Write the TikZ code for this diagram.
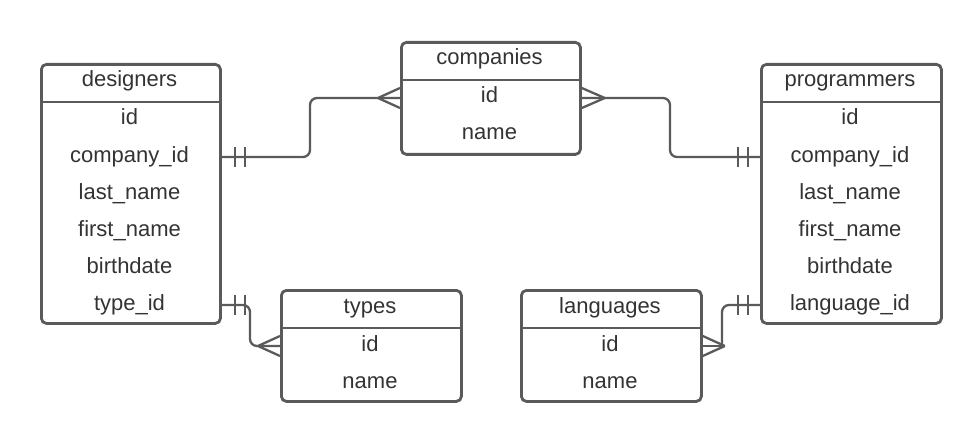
\documentclass[tikz,border=0pt]{standalone}
\usepackage{fontspec}
\setmainfont{Liberation Sans}
\usetikzlibrary{calc}
\definecolor{ln}{HTML}{5A5A5A}
\definecolor{tx}{HTML}{333333}
\begin{document}
\begin{tikzpicture}[x=1pt,y=-1pt,
  tbl/.style={draw=ln, line width=2.8pt, rounded corners=5pt},
  hdr/.style={draw=ln, line width=2.8pt},
  fld/.style={font=\fontsize{22}{24}\selectfont, text=tx, text height=15pt, text depth=5pt, inner sep=0pt},
  rel/.style={draw=ln, line width=2.3pt, rounded corners=7pt},
  tick/.style={draw=ln, line width=2.3pt}]
\useasboundingbox (0,0) rectangle (980,441);

% designers
\node[tbl, minimum width=179pt, minimum height=259pt, anchor=north west, inner sep=0pt] (des) at (40,63) {};
\draw[hdr] (40,102) -- (219,102);
\node[fld] (dt) at (129.5,82) {designers};
\node[fld] (did) at (129.5,120) {id};
\node[fld] (dcid) at (129.5,157) {company\_id};
\node[fld] (dln) at (129.5,194) {last\_name};
\node[fld] (dfn) at (129.5,231) {first\_name};
\node[fld] (dbd) at (129.5,268) {birthdate};
\node[fld] (dtid) at (129.5,305) {type\_id};

% companies
\node[tbl, minimum width=179pt, minimum height=112pt, anchor=north west, inner sep=0pt] (comp) at (400,41) {};
\draw[hdr] (400,80) -- (579,80);
\node[fld] (ct) at (489.5,60) {companies};
\node[fld] (cid) at (489.5,98) {id};
\node[fld] (cname) at (489.5,135) {name};

% programmers
\node[tbl, minimum width=180pt, minimum height=259pt, anchor=north west, inner sep=0pt] (prog) at (760,63) {};
\draw[hdr] (760,102) -- (940,102);
\node[fld] (pt) at (850,82) {programmers};
\node[fld] (pid) at (850,120) {id};
\node[fld] (pcid) at (850,157) {company\_id};
\node[fld] (pln) at (850,194) {last\_name};
\node[fld] (pfn) at (850,231) {first\_name};
\node[fld] (pbd) at (850,268) {birthdate};
\node[fld] (plid) at (850,305) {language\_id};

% types
\node[tbl, minimum width=180pt, minimum height=111pt, anchor=north west, inner sep=0pt] (typ) at (280,289) {};
\draw[hdr] (280,328) -- (460,328);
\node[fld] (tt) at (370,308) {types};
\node[fld] (tid) at (370,346) {id};
\node[fld] (tname) at (370,383) {name};

% languages
\node[tbl, minimum width=180pt, minimum height=111pt, anchor=north west, inner sep=0pt] (lang) at (520,289) {};
\draw[hdr] (520,328) -- (700,328);
\node[fld] (lt) at (610,308) {languages};
\node[fld] (lid) at (610,346) {id};
\node[fld] (lname) at (610,383) {name};

% bend coordinates
\coordinate (m1) at (310,0);
\coordinate (m2) at (670,0);
\coordinate (m3) at (250,0);
\coordinate (m4) at (722,0);

% designers -- companies
\draw[rel] (dcid -| des.east) -- (m1 |- dcid) -- (m1 |- cid) -- (cid -| comp.west);
\draw[tick] ($(dcid -| des.east)+(13,-10)$) -- ++(0,20);
\draw[tick] ($(dcid -| des.east)+(23,-10)$) -- ++(0,20);
\draw[tick] ($(cid -| comp.west)+(-22,0)$) -- ($(cid -| comp.west)+(0,-10)$);
\draw[tick] ($(cid -| comp.west)+(-22,0)$) -- ($(cid -| comp.west)+(0,10)$);

% companies -- programmers
\draw[rel] (cid -| comp.east) -- (m2 |- cid) -- (m2 |- pcid) -- (pcid -| prog.west);
\draw[tick] ($(cid -| comp.east)+(23,0)$) -- ($(cid -| comp.east)+(0,-10)$);
\draw[tick] ($(cid -| comp.east)+(23,0)$) -- ($(cid -| comp.east)+(0,10)$);
\draw[tick] ($(pcid -| prog.west)+(-12,-10)$) -- ++(0,20);
\draw[tick] ($(pcid -| prog.west)+(-22,-10)$) -- ++(0,20);

% designers -- types
\draw[rel] (dtid -| des.east) -- (m3 |- dtid) -- (m3 |- tid) -- (tid -| typ.west);
\draw[tick] ($(dtid -| des.east)+(13,-10)$) -- ++(0,20);
\draw[tick] ($(dtid -| des.east)+(23,-10)$) -- ++(0,20);
\draw[tick] ($(tid -| typ.west)+(-22,0)$) -- ($(tid -| typ.west)+(0,-10)$);
\draw[tick] ($(tid -| typ.west)+(-22,0)$) -- ($(tid -| typ.west)+(0,10)$);

% programmers -- languages
\draw[rel] (plid -| prog.west) -- (m4 |- plid) -- (m4 |- lid);
\draw[tick] (m4 |- lid) -- (lid -| lang.east);
\draw[tick] ($(plid -| prog.west)+(-12,-10)$) -- ++(0,20);
\draw[tick] ($(plid -| prog.west)+(-22,-10)$) -- ++(0,20);
\draw[tick] ($(lid -| lang.east)+(22,0)$) -- ($(lid -| lang.east)+(0,-10)$);
\draw[tick] ($(lid -| lang.east)+(22,0)$) -- ($(lid -| lang.east)+(0,10)$);
\end{tikzpicture}
\end{document}
